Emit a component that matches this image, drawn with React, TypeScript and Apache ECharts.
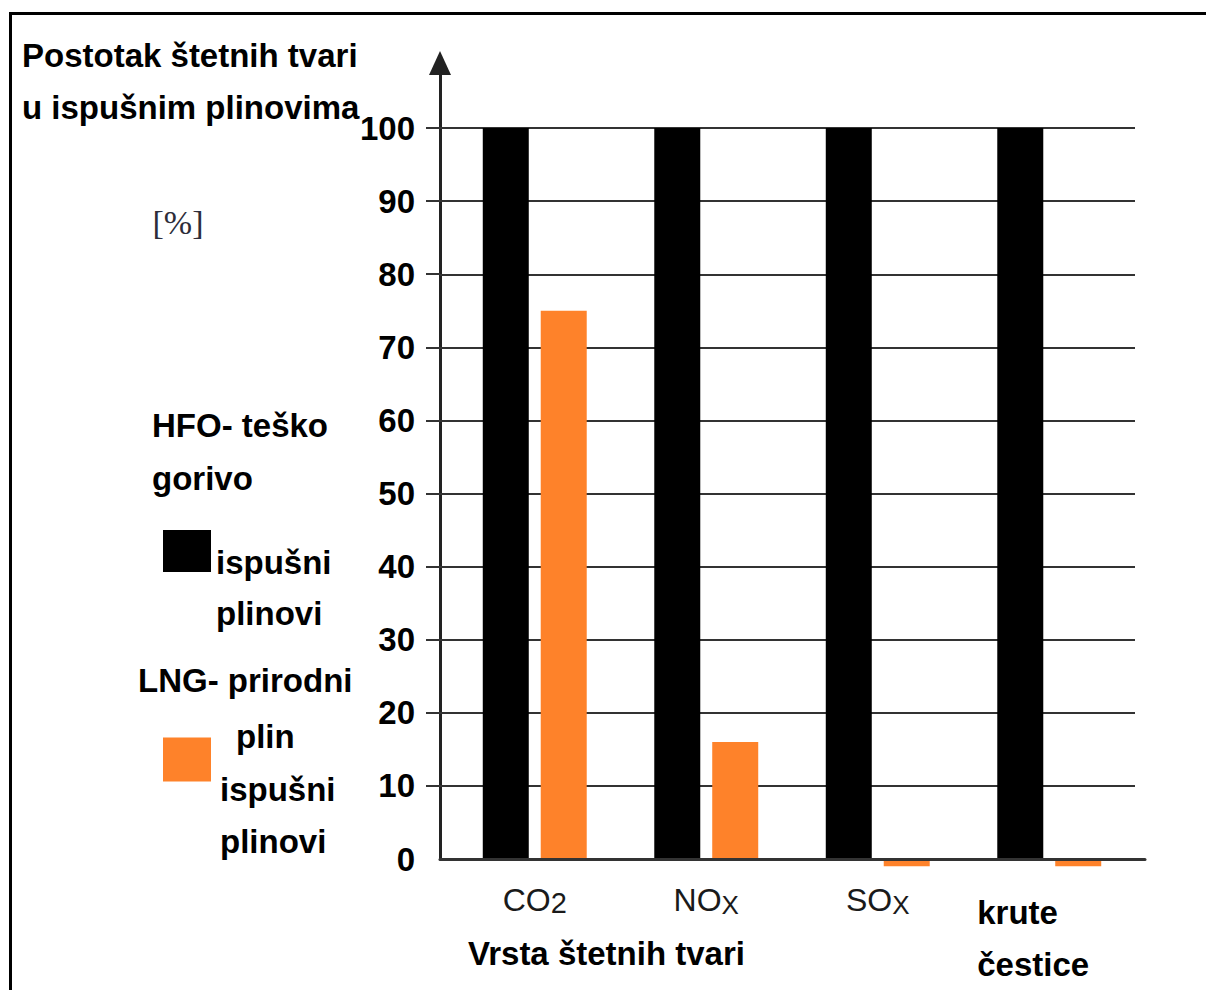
import React, { useEffect, useRef } from "react";
import * as echarts from "echarts";

const FONT = '"Liberation Sans", Arial, Helvetica, sans-serif';

const categories = ["CO2", "NOx", "SOx", "krute čestice"];
const hfoName = "HFO- teško gorivo ispušni plinovi";
const lngName = "LNG- prirodni plin ispušni plinovi";
const hfoValues = [100, 100, 100, 100];
const lngValues = [75, 16, -1, -1];
const yTickValues = [10, 20, 30, 40, 50, 60, 70, 80, 90, 100];
const yLabelValues = [0, 10, 20, 30, 40, 50, 60, 70, 80, 90, 100];
const titleLines = ["Postotak štetnih tvari", "u ispušnim plinovima"];
const unitText = "[%]";
const xAxisName = "Vrsta štetnih tvari";

const labelRich: Record<string, string> = {
  CO2: "{m|CO}{s|2}",
  NOx: "{m|NO}{x|X}",
  SOx: "{m|SO}{x|X}",
  "krute čestice": "{k1|krute}\n{k2|čestice}",
};

function txt(text: string, x: number, y: number, font: string, fill = "#000", align = "left") {
  return {
    type: "text",
    x,
    y,
    style: {
      text,
      font,
      fill,
      align,
      textAlign: align,
      verticalAlign: "middle",
      textVerticalAlign: "middle",
    },
  };
}

export default function App() {
  const ref = useRef<HTMLDivElement>(null);
  useEffect(() => {
    if (!ref.current) return;
    const chart = echarts.init(ref.current, undefined, { renderer: "svg" });
    const bold33 = `bold 33px ${FONT}`;
    chart.setOption({
      animation: false,
      backgroundColor: "#ffffff",
      textStyle: { fontFamily: FONT },
      grid: [
        { left: 440, top: 63, width: 705, height: 796 },
        { left: 449, top: 63, width: 686, height: 804.8 },
      ],
      legend: [
        {
          data: [hfoName],
          orient: "vertical",
          left: 163,
          top: 530,
          padding: 0,
          itemWidth: 48,
          itemHeight: 42,
          icon: "rect",
          selectedMode: false,
          formatter: () => "{t|ispušni}\n{t|plinovi}",
          textStyle: {
            padding: [73, 0, 0, 0],
            rich: {
              t: { fontSize: 33, fontWeight: "bold", fontFamily: FONT, lineHeight: 51, color: "#000" },
            },
          },
        },
        {
          data: [lngName],
          orient: "vertical",
          left: 163,
          top: 720,
          padding: 0,
          itemWidth: 48,
          itemHeight: 44,
          icon: "rect",
          selectedMode: false,
          formatter: () => "{p|plin}\n{t|ispušni}\n{t|plinovi}",
          textStyle: {
            padding: [59, 0, 0, 4],
            rich: {
              p: { fontSize: 33, fontWeight: "bold", fontFamily: FONT, lineHeight: 52.5, color: "#000", padding: [0, 0, 0, 16] },
              t: { fontSize: 33, fontWeight: "bold", fontFamily: FONT, lineHeight: 52.5, color: "#000" },
            },
          },
        },
      ],
      xAxis: [
        {
          gridIndex: 0,
          type: "category",
          data: categories,
          z: 3,
          axisLine: { show: true, lineStyle: { color: "#333", width: 3 } },
          axisTick: { show: false },
          axisLabel: { show: false },
          splitLine: { show: false },
        },
        {
          gridIndex: 1,
          type: "category",
          data: categories,
          axisLine: { show: false },
          axisTick: { show: false },
          splitLine: { show: false },
          axisLabel: {
            margin: 14,
            interval: 0,
            formatter: (v: string) => labelRich[v] ?? v,
            rich: {
              m: { fontSize: 32, fontFamily: FONT, color: "#1a1a1a", lineHeight: 36 },
              s: { fontSize: 29, fontFamily: FONT, color: "#1a1a1a", lineHeight: 36, padding: [10, 0, 0, 0], verticalAlign: "bottom" },
              x: { fontSize: 26, fontFamily: FONT, color: "#1a1a1a", lineHeight: 34, padding: [12, 0, 0, 0], verticalAlign: "bottom" },
              k1: { fontSize: 33, fontWeight: "bold", fontFamily: FONT, color: "#000", lineHeight: 55, width: 144, align: "left", padding: [6, 0, 0, 0] },
              k2: { fontSize: 33, fontWeight: "bold", fontFamily: FONT, color: "#000", lineHeight: 55, width: 144, align: "left" },
            },
          },
        },
      ],
      yAxis: [
        {
          gridIndex: 0,
          type: "value",
          min: 0,
          max: 108.9,
          axisLine: {
            show: true,
            symbol: ["none", "triangle"],
            symbolSize: [22, 24],
            lineStyle: { color: "#222", width: 3 },
          },
          axisTick: { show: true, length: 14, customValues: yTickValues, lineStyle: { color: "#333", width: 2 } },
          axisLabel: {
            customValues: yLabelValues,
            margin: 25,
            fontSize: 33,
            fontWeight: "bold",
            fontFamily: FONT,
            color: "#000",
          },
          splitLine: { show: false },
        },
        {
          gridIndex: 1,
          type: "value",
          min: -1.2,
          max: 108.9,
          offset: 9,
          axisLine: { show: false },
          axisTick: { show: true, inside: true, length: 9, customValues: yTickValues, lineStyle: { color: "#333", width: 2 } },
          axisLabel: { show: false },
          splitLine: { show: true, lineStyle: { color: "#333", width: 2 } },
        },
      ],
      series: [
        {
          name: hfoName,
          type: "bar",
          xAxisIndex: 1,
          yAxisIndex: 1,
          data: hfoValues,
          barWidth: 46,
          barGap: "26%",
          itemStyle: { color: "#000000" },
        },
        {
          name: lngName,
          type: "bar",
          xAxisIndex: 1,
          yAxisIndex: 1,
          data: lngValues,
          barWidth: 46,
          barGap: "26%",
          itemStyle: { color: "#FE822A" },
        },
      ],
      graphic: [
        { type: "line", shape: { x1: 9, y1: 13.5, x2: 1206, y2: 13.5 }, style: { stroke: "#000", lineWidth: 3 } },
        { type: "line", shape: { x1: 10.5, y1: 12, x2: 10.5, y2: 990 }, style: { stroke: "#000", lineWidth: 3 } },
        txt(titleLines[0], 22, 55, bold33),
        txt(titleLines[1], 22, 107, bold33),
        txt(unitText, 178, 222, `normal 34px "Liberation Serif", "Times New Roman", serif`, "#2d2d3a", "center"),
        txt("HFO- teško", 152, 425, bold33),
        txt("gorivo", 152, 478, bold33),
        txt("LNG- prirodni", 138, 680, bold33),
        txt(xAxisName, 468, 953, bold33),
      ],
    });
    return () => chart.dispose();
  }, []);
  return <div ref={ref} style={{ position: "absolute", left: 0, top: 0, width: 1206, height: 990 }} />;
}
